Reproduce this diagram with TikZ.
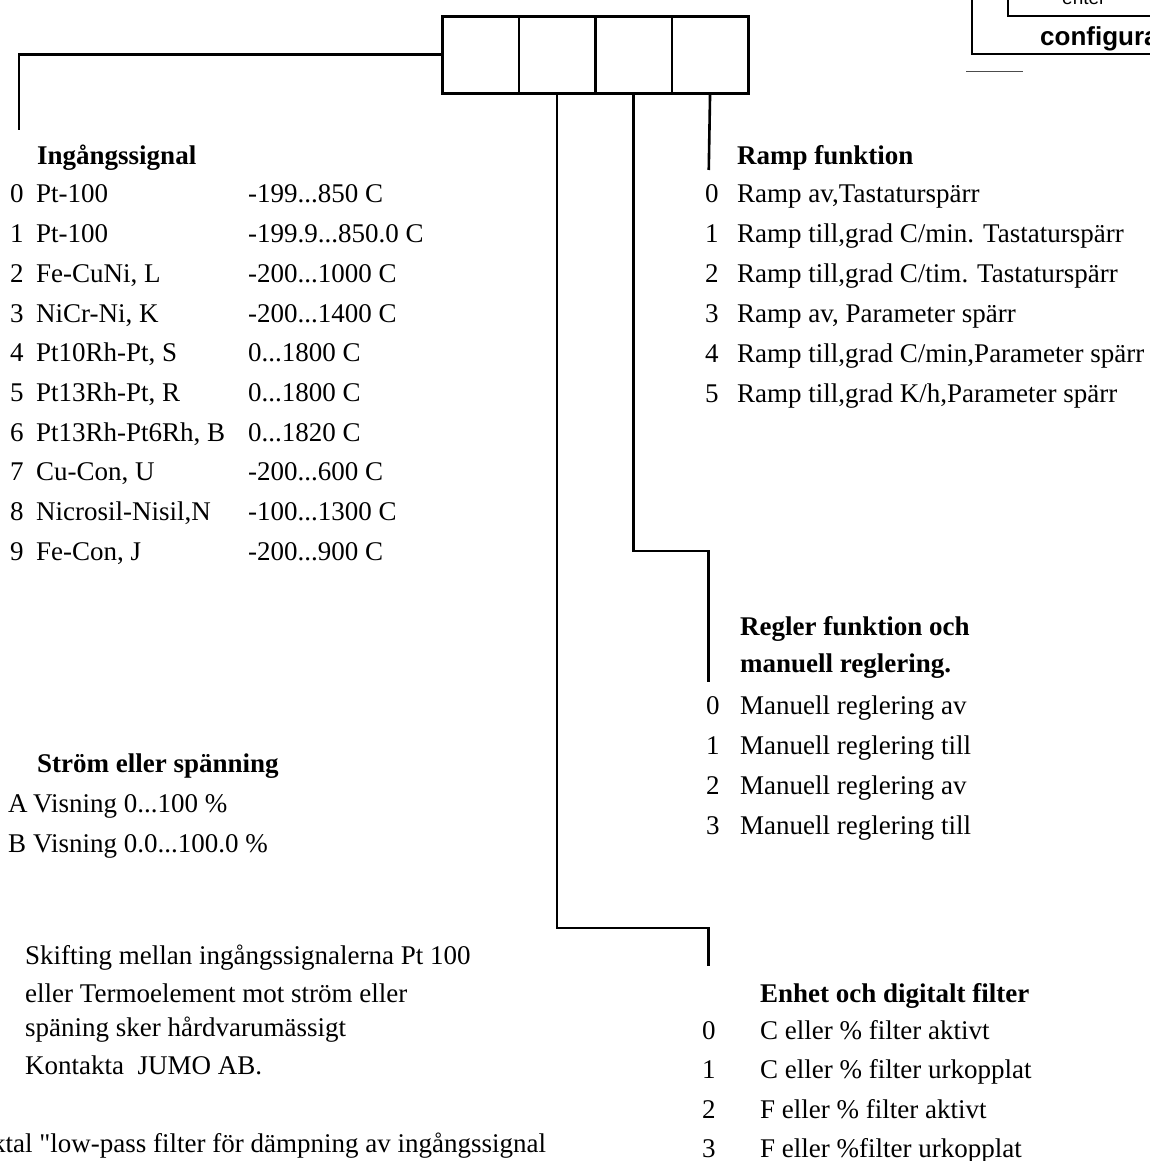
\documentclass[tikz,border=0pt]{standalone}
\usepackage{fontspec}
\setmainfont{Liberation Serif}
\newfontfamily\rawserif{Liberation Serif}[Ligatures=TeXOff]
\newfontfamily\arialf{Liberation Sans}
\begin{document}
\begin{tikzpicture}[x=1pt,y=-1pt,
  txt/.style={anchor=base west,inner sep=0pt,font=\fontsize{27}{30}\selectfont},
  hd/.style={anchor=base west,inner sep=0pt,font=\fontsize{27}{30}\selectfont\bfseries},
  cell/.style={draw,line width=2.6pt,minimum width=76.5pt,minimum height=77pt,inner sep=0pt,anchor=north west},
  wire/.style={line width=2.6pt}]
\useasboundingbox (0,0) rectangle (1150,1161);

% code boxes
\node[cell] (c1) at (441,15) {};
\node[cell] (c2) at (517.5,15) {};
\node[cell] (c3) at (594,15) {};
\node[cell] (c4) at (670.5,15) {};

% free ends
\coordinate (k1e) at (19,130);
\coordinate (k2m) at (708.75,928);
\coordinate (k2e) at (708.75,966);
\coordinate (k3m) at (708.75,551);
\coordinate (k3e) at (708.75,682);
\coordinate (k4e) at (708.75,170);

\draw[wire] (c1.west) -| (k1e);
\draw[wire] (c2.south) |- (k2m) -- (k2e);
\draw[wire] (c3.south) |- (k3m) -- (k3e);
\draw[wire] (c4.south) -- (k4e);

% top right fragment
\coordinate (ob1) at (972,-10);
\coordinate (ob2) at (972,54);
\coordinate (ob3) at (1170,54);
\coordinate (ib1) at (1008,-10);
\coordinate (ib2) at (1008,16);
\coordinate (ib3) at (1170,16);
\draw[line width=2pt] (ob1) -- (ob2) -- (ob3);
\draw[line width=2pt] (ib1) -- (ib2) -- (ib3);
\node[anchor=base west,inner sep=0pt,font=\arialf\fontsize{19}{20}\selectfont] (enter) at (1062,5) {enter};
\node[anchor=base west,inner sep=0pt,font=\arialf\bfseries\fontsize{26}{28}\selectfont] (conf) at (1040,46) {configura};
\coordinate (sl1) at (966,72);
\coordinate (sl2) at (1023,72);
\draw[line width=1pt,black!70] (sl1) -- (sl2);

% Ingångssignal
\node[hd] (h1) at (37,165) {Ingångssignal};
\foreach \n/\name/\rng [count=\i from 0] in {0/Pt-100/{-199...850 C},1/Pt-100/{-199.9...850.0 C},2/{Fe-CuNi, L}/{-200...1000 C},3/{NiCr-Ni, K}/{-200...1400 C},4/{Pt10Rh-Pt, S}/{0...1800 C},5/{Pt13Rh-Pt, R}/{0...1800 C},6/{Pt13Rh-Pt6Rh, B}/{0...1820 C},7/{Cu-Con, U}/{-200...600 C},8/{Nicrosil-Nisil,N}/{-100...1300 C},9/{Fe-Con, J}/{-200...900 C}}{
  \node[txt] (in\i) at (10,203+39.7*\i) {\n};
  \node[txt] (iname\i) at (36,203+39.7*\i) {\name};
  \node[txt] (irng\i) at (248,203+39.7*\i) {\rng};
}

% Ramp funktion
\node[hd] (h2) at (737,165) {Ramp funktion};
\foreach \n/\t [count=\i from 0] in {0/{Ramp av,Tastaturspärr},1/{Ramp till,grad C/min. Tastaturspärr},2/{Ramp till,grad C/tim. Tastaturspärr},3/{Ramp av, Parameter spärr},4/{Ramp till,grad C/min,Parameter spärr},5/{Ramp till,grad K/h,Parameter spärr}}{
  \node[txt] (rn\i) at (705,203+39.8*\i) {\n};
  \node[txt] (rt\i) at (737,203+39.8*\i) {\t};
}

% Regler
\node[hd] (h3a) at (740,635) {Regler funktion och};
\node[hd] (h3b) at (740,672) {manuell reglering.};
\foreach \n/\t [count=\i from 0] in {0/{Manuell reglering av},1/{Manuell reglering till},2/{Manuell reglering av},3/{Manuell reglering till}}{
  \node[txt] (mn\i) at (706,714+40*\i) {\n};
  \node[txt] (mt\i) at (740,714+40*\i) {\t};
}

% Ström eller spänning
\node[hd] (h4) at (37,772) {Ström eller spänning};
\node[txt] (sa) at (8,812) {A};
\node[txt] (sat) at (33,812) {Visning 0...100 \%};
\node[txt] (sb) at (8,852) {B};
\node[txt] (sbt) at (33,852) {Visning 0.0...100.0 \%};

% note
\node[txt] (n1) at (25,964) {Skifting mellan ingångssignalerna Pt 100};
\node[txt] (n2) at (25,1002) {eller Termoelement mot ström eller};
\node[txt] (n3) at (25,1036) {späning sker hårdvarumässigt};
\node[txt] (n4) at (25,1074) {Kontakta\ \ JUMO AB.};

\node[txt,font=\rawserif\fontsize{27}{30}\selectfont] (lp) at (-8,1152) {ktal "low-pass filter för dämpning av ingångssignal};

% Enhet
\node[hd] (h5) at (760,1002) {Enhet och digitalt filter};
\foreach \n/\t [count=\i from 0] in {0/{C eller \% filter aktivt},1/{C eller \% filter urkopplat},2/{F eller \% filter aktivt},3/{F eller \%filter urkopplat}}{
  \node[txt] (en\i) at (702,1039+39.5*\i) {\n};
  \node[txt] (et\i) at (760,1039+39.5*\i) {\t};
}
\end{tikzpicture}
\end{document}
